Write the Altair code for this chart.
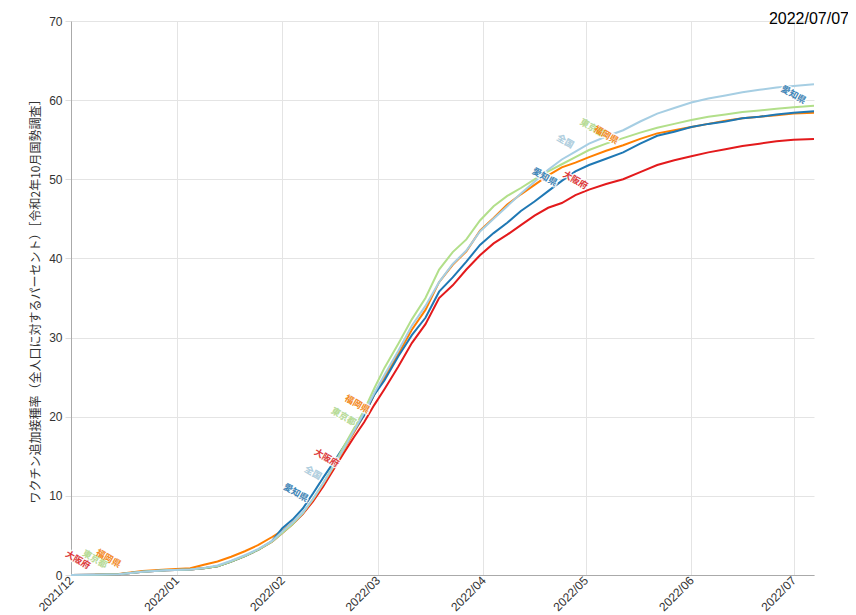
import altair as alt
import pandas as pd

dates = ["2021-12-01","2021-12-08","2021-12-15","2021-12-22","2021-12-29",
         "2022-01-05","2022-01-09","2022-01-13","2022-01-17","2022-01-21","2022-01-25","2022-01-29",
         "2022-02-01","2022-02-04","2022-02-07","2022-02-10","2022-02-13","2022-02-16","2022-02-19","2022-02-22","2022-02-25","2022-02-28",
         "2022-03-03","2022-03-07","2022-03-11","2022-03-15","2022-03-19","2022-03-23","2022-03-27","2022-03-31",
         "2022-04-04","2022-04-08","2022-04-12","2022-04-16","2022-04-20","2022-04-24","2022-04-28",
         "2022-05-02","2022-05-07","2022-05-12","2022-05-17","2022-05-22","2022-05-27",
         "2022-06-01","2022-06-06","2022-06-11","2022-06-16","2022-06-21","2022-06-26",
         "2022-07-01","2022-07-07"]

zenkoku = [0,0.02,0.1,0.4,0.6, 0.7,0.9,1.2,1.8,2.5,3.3,4.3,
           5.5,6.6,7.9,9.6,11.6,13.7,15.9,18.2,20.5,23.0,
           25.3,28.3,31.5,34.0,37.0,39.3,41.0,43.4,
           45.0,46.6,48.2,49.7,51.2,52.5,53.5,
           54.5,55.4,56.2,57.3,58.3,59.0,
           59.7,60.2,60.6,61.0,61.3,61.6,
           61.8,62.0]
tokyo = [0,0.02,0.1,0.4,0.6, 0.7,0.85,1.1,1.7,2.4,3.2,4.2,
         5.3,6.4,7.8,9.6,11.6,13.8,16.2,18.5,20.8,23.6,
         26.2,29.2,32.3,35.0,38.6,40.8,42.4,44.8,
         46.6,47.9,48.9,50.0,51.0,51.9,52.8,
         53.7,54.5,55.2,55.9,56.5,57.0,
         57.5,57.9,58.2,58.5,58.7,58.9,
         59.1,59.3]
fukuoka = [0,0.02,0.12,0.5,0.7, 0.85,1.3,1.7,2.3,3.0,3.8,4.8,
           5.6,6.6,7.8,9.5,11.5,13.6,15.8,18.0,20.2,22.8,
           25.0,27.9,31.0,33.5,37.0,39.2,40.9,43.5,
           45.1,46.8,48.1,49.3,50.5,51.5,52.1,
           52.8,53.6,54.3,55.1,55.8,56.2,
           56.6,57.0,57.4,57.7,57.9,58.1,
           58.3,58.4]
aichi = [0,0.02,0.1,0.4,0.6, 0.7,0.85,1.1,1.7,2.4,3.2,4.3,
         5.9,7.0,8.4,10.3,12.3,14.2,16.2,18.2,20.2,22.8,
         24.6,27.6,30.3,32.5,35.8,37.6,39.6,41.7,
         43.2,44.5,46.0,47.2,48.5,49.8,51.0,
         51.8,52.6,53.4,54.5,55.5,56.0,
         56.6,57.0,57.3,57.7,57.9,58.2,
         58.4,58.6]
osaka = [0,0.02,0.1,0.4,0.6, 0.7,0.85,1.1,1.7,2.4,3.2,4.2,
         5.3,6.4,7.7,9.3,11.2,13.3,15.4,17.4,19.3,21.5,
         23.5,26.3,29.3,31.7,35.0,36.6,38.6,40.4,
         41.9,43.0,44.2,45.4,46.4,47.0,48.0,
         48.7,49.4,50.0,50.9,51.8,52.4,
         52.9,53.4,53.8,54.2,54.5,54.8,
         55.0,55.1]

series_names = ["大阪府", "福岡県", "愛知県", "東京都", "全国"]
series_values = [osaka, fukuoka, aichi, tokyo, zenkoku]
series_colors = ["#e31a1c", "#ff7f00", "#1f78b4", "#b2df8a", "#a6cee3"]

label_series = ["大阪府","東京都","福岡県","愛知県","全国","大阪府","東京都","福岡県",
                "愛知県","全国","大阪府","東京都","福岡県","愛知県"]
label_dates = ["2021-12-03","2021-12-08","2021-12-12","2022-02-05","2022-02-10","2022-02-14",
               "2022-02-19","2022-02-23","2022-04-19","2022-04-25","2022-04-28","2022-05-03",
               "2022-05-07","2022-07-01"]
label_values = [1.9,2.0,2.1,10.4,12.9,14.8,20.0,21.6,50.3,54.8,49.9,56.5,55.6,60.7]

month_ticks = ["2021-12-01","2022-01-01","2022-02-01","2022-03-01","2022-04-01",
               "2022-05-01","2022-06-01","2022-07-01"]
y_ticks = [0, 10, 20, 30, 40, 50, 60, 70]

rows = []
for name, vals in zip(series_names, series_values):
    for d, v in zip(dates, vals):
        rows.append({"series": name, "date": d, "value": v})
df = pd.DataFrame(rows)
labels_df = pd.DataFrame({"series": label_series, "date": label_dates, "value": label_values})

def ts(s):
    return int(pd.Timestamp(s, tz="UTC").timestamp() * 1000)

x_scale = alt.Scale(type="utc", domain=[ts("2021-12-01"), ts("2022-07-07")])
y_scale = alt.Scale(domain=[0, 70])
color_scale = alt.Scale(domain=series_names, range=series_colors)

x_axis = alt.Axis(values=[ts(m) for m in month_ticks],
                  labelExpr="utcFormat(datum.value, '%Y/%m')",
                  labelAngle=-45, labelAlign="right", labelBaseline="middle",
                  labelPadding=3, ticks=False, title=None, grid=True, gridColor="#e4e4e4",
                  domainColor="#aaaaaa",
                  labelFont="Liberation Sans", labelFontSize=12, labelColor="#333333")
y_axis = alt.Axis(values=y_ticks, title="ワクチン追加接種率（全人口に対するパーセント）［令和2年10月国勢調査］",
                  titleFont="Noto Sans CJK JP", titleFontSize=12, titleFontWeight="normal",
                  titleColor="#333333", titleX=-36, titleY=277, titleAngle=-90,
                  titleAlign="center", titleBaseline="middle",
                  grid=True, gridColor="#e4e4e4", domainColor="#aaaaaa",
                  tickColor="#dddddd", tickSize=6, labelPadding=3,
                  labelFont="Liberation Sans", labelFontSize=12, labelColor="#333333")

lines = alt.Chart(df).mark_line(strokeWidth=2).encode(
    x=alt.X("date:T", scale=x_scale, axis=x_axis),
    y=alt.Y("value:Q", scale=y_scale, axis=y_axis),
    color=alt.Color("series:N", scale=color_scale, legend=None),
    detail="series:N",
)

halo = alt.Chart(labels_df).mark_text(
    angle=30, fontSize=9, font="Noto Sans CJK JP", fontWeight="bold",
    stroke="white", strokeWidth=2.5, strokeOpacity=0.85,
).encode(
    x=alt.X("date:T", scale=x_scale),
    y=alt.Y("value:Q", scale=y_scale),
    text="series:N",
)
texts = alt.Chart(labels_df).mark_text(
    angle=30, fontSize=9, font="Noto Sans CJK JP", fontWeight="bold", opacity=0.85,
).encode(
    x=alt.X("date:T", scale=x_scale),
    y=alt.Y("value:Q", scale=y_scale),
    text="series:N",
    color=alt.Color("series:N", scale=color_scale, legend=None),
)

chart = alt.layer(lines, halo, texts).properties(
    width=743, height=554,
    autosize=alt.AutoSizeParams(type="none"),
    padding={"left": 63, "top": 13, "right": 34, "bottom": 38},
    title=alt.TitleParams("2022/07/07", anchor="end", fontSize=16, fontWeight="normal",
                          font="Liberation Sans", color="#000000", dx=31, offset=-12),
).configure_view(strokeWidth=0)

chart.save("out.html", embed_options={"renderer": "svg", "actions": False})
